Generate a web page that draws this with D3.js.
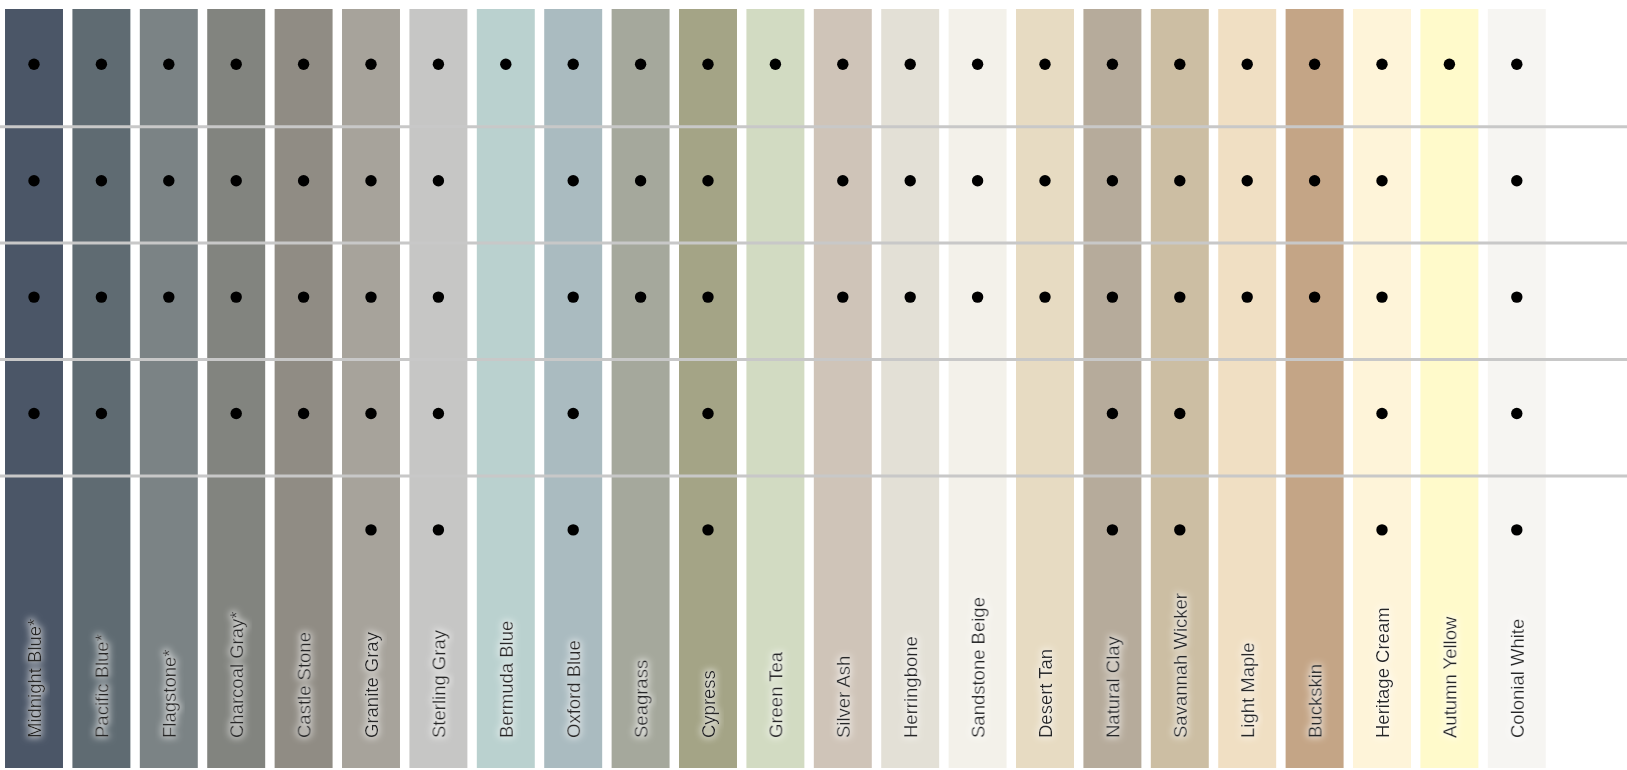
<!DOCTYPE html>
<html>
<head>
<meta charset="utf-8">
<script src="https://cdn.jsdelivr.net/npm/d3@7"></script>
<style>
  html, body { margin: 0; padding: 0; background: #fff; }
  svg { display: block; }
  .label { font-family: "Liberation Sans", Arial, sans-serif; font-size: 18.5px; fill: #262626; }
</style>
</head>
<body>
<svg></svg>
<script>
const width = 1627, height = 770;

// colour names and swatches
const names = ["Midnight Blue*", "Pacific Blue*", "Flagstone*", "Charcoal Gray*", "Castle Stone",
  "Granite Gray", "Sterling Gray", "Bermuda Blue", "Oxford Blue", "Seagrass", "Cypress", "Green Tea",
  "Silver Ash", "Herringbone", "Sandstone Beige", "Desert Tan", "Natural Clay", "Savannah Wicker",
  "Light Maple", "Buckskin", "Heritage Cream", "Autumn Yellow", "Colonial White"];

const swatches = ["#4b5667", "#5f6b72", "#7b8385", "#82847f", "#908c84",
  "#a7a39b", "#c6c6c5", "#bad1cf", "#aabbc0", "#a5a89c", "#a4a486", "#d2dbc2",
  "#cfc4b8", "#e3e0d6", "#f3f1ea", "#e7dbc2", "#b6ab9b", "#ccbea3",
  "#f0dfc3", "#c4a586", "#fef4d9", "#fffacb", "#f6f5f2"];

const rows = ["r1", "r2", "r3", "r4", "r5"];

// which colours are available in each row (1 = dot)
const row1 = [1,1,1,1,1,1,1,1,1,1,1,1,1,1,1,1,1,1,1,1,1,1,1];
const row2 = [1,1,1,1,1,1,1,0,1,1,1,0,1,1,1,1,1,1,1,1,1,0,1];
const row3 = [1,1,1,1,1,1,1,0,1,1,1,0,1,1,1,1,1,1,1,1,1,0,1];
const row4 = [1,1,0,1,1,1,1,0,1,0,1,0,0,0,0,0,1,1,0,0,1,0,1];
const row5 = [0,0,0,0,0,1,1,0,1,0,1,0,0,0,0,0,1,1,0,0,1,0,1];
const marks = [row1, row2, row3, row4, row5];

const svg = d3.select("svg").attr("width", width).attr("height", height);

// white halo behind labels
const glow = svg.append("defs").append("filter")
    .attr("id", "glow")
    .attr("x", "-50%").attr("y", "-20%")
    .attr("width", "200%").attr("height", "140%");
glow.append("feMorphology").attr("in", "SourceAlpha").attr("operator", "dilate").attr("radius", 1).attr("result", "fat");
glow.append("feGaussianBlur").attr("in", "fat").attr("stdDeviation", 3.5).attr("result", "blur");
glow.append("feFlood").attr("flood-color", "#fff").attr("flood-opacity", 0.7);
glow.append("feComposite").attr("in2", "blur").attr("operator", "in").attr("result", "halo");
const merge = glow.append("feMerge");
merge.append("feMergeNode").attr("in", "halo");
merge.append("feMergeNode").attr("in", "SourceGraphic");

const x = d3.scaleBand()
    .domain(names)
    .range([0.3, 1550.5])
    .paddingInner(0.14)
    .paddingOuter(0.07);

const y = d3.scaleBand()
    .domain(rows)
    .range([10.3, 592.3]);

const color = d3.scaleOrdinal().domain(names).range(swatches);

// colour columns
svg.append("g")
    .selectAll("rect")
    .data(names)
    .enter().append("rect")
    .attr("x", d => x(d))
    .attr("y", 9)
    .attr("width", x.bandwidth())
    .attr("height", 759)
    .attr("fill", d => color(d));

// row separators
svg.append("g")
    .selectAll("line")
    .data(rows.slice(1))
    .enter().append("line")
    .attr("x1", 0)
    .attr("x2", width)
    .attr("y1", d => y(d))
    .attr("y2", d => y(d))
    .attr("stroke", "#c8c8c8")
    .attr("stroke-width", 3);

// availability dots
const dots = [];
marks.forEach((r, i) => r.forEach((v, j) => { if (v) dots.push({ row: rows[i], name: names[j] }); }));

svg.append("g")
    .selectAll("circle")
    .data(dots)
    .enter().append("circle")
    .attr("cx", d => x(d.name) + x.bandwidth() / 2)
    .attr("cy", d => y(d.row) + 54)
    .attr("r", 5.7)
    .attr("fill", "#000");

// vertical labels
svg.append("g")
    .selectAll("text")
    .data(names)
    .enter().append("text")
    .attr("class", "label")
    .attr("filter", "url(#glow)")
    .attr("transform", d => `translate(${x(d) + x.bandwidth() / 2 + 1},738) rotate(-90)`)
    .attr("dy", "0.35em")
    .text(d => d);
</script>
</body>
</html>
